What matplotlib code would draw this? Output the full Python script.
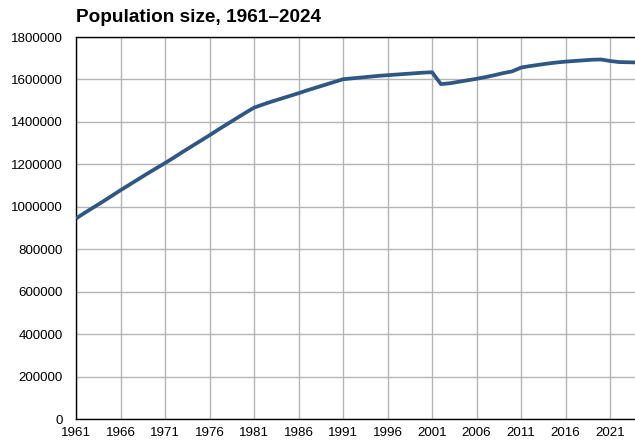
import matplotlib
matplotlib.use("Agg")
import matplotlib.pyplot as plt

years = list(range(1961, 2025))
population = [
    945000, 972000, 998000, 1024000, 1051000, 1078000, 1104000, 1130000, 1156000, 1181000,
    1206000, 1232000, 1259000, 1285000, 1311000, 1337000, 1364000, 1390000, 1416000, 1442000,
    1467000, 1482000, 1496000, 1509000, 1522000, 1535000, 1549000, 1562000, 1575000, 1588000,
    1601000, 1605000, 1609000, 1613000, 1617000, 1620000, 1623000, 1626000, 1629000, 1632000,
    1634000, 1578000, 1582000, 1589000, 1596000, 1603000, 1611000, 1620000, 1630000, 1638000,
    1656000, 1663000, 1669000, 1675000, 1680000, 1684000, 1687000, 1690000, 1693000, 1694000,
    1687000, 1682000, 1681000, 1680000,
]
x_ticks = list(range(1961, 2022, 5))
y_ticks = list(range(0, 1800001, 200000))

plt.rcParams["font.family"] = ["Liberation Sans", "DejaVu Sans"]

fig = plt.figure(figsize=(6.35, 4.41), dpi=100)
ax = fig.add_axes([76 / 635, 1 - 419 / 441, 1 - 76 / 635, (419 - 37) / 441])

ax.plot(years, population, color="#305683", linewidth=2.7, solid_capstyle="butt", zorder=3)

ax.set_xlim(1961, 2023.8)
ax.set_ylim(0, 1800000)
ax.set_xticks(x_ticks)
ax.set_yticks(y_ticks)
ax.set_yticklabels([str(v) for v in y_ticks])
ax.tick_params(length=0, labelsize=9.6, colors="black")
ax.tick_params(axis="x", pad=6)
ax.tick_params(axis="y", pad=9.5)
ax.grid(True, color="#b4b4b4", linewidth=1.0)
ax.set_axisbelow(True)

for side in ["left", "bottom", "top"]:
    ax.spines[side].set_color("black")
    ax.spines[side].set_linewidth(1.0)
ax.spines["right"].set_visible(False)

fig.text(76 / 635, 1 - 17 / 441, "Population size, 1961\u20132024",
         fontsize=13.7, fontweight="bold", ha="left", va="center")

plt.savefig("out.png", dpi=100)
